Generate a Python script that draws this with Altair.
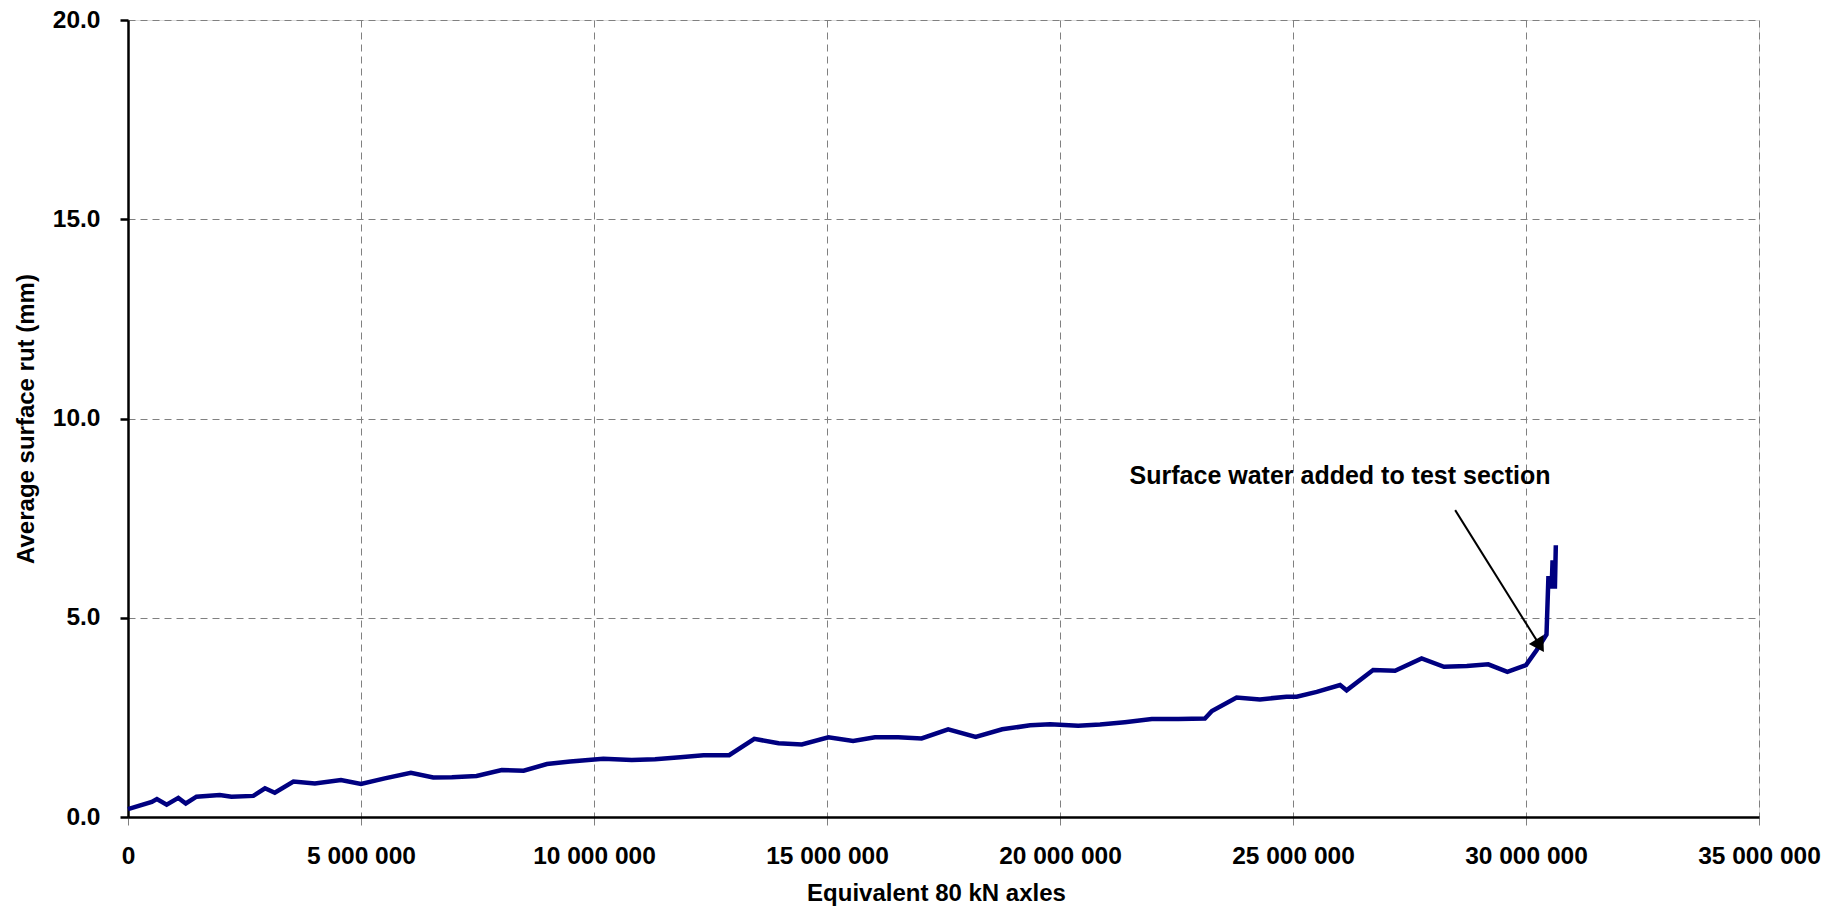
import altair as alt
import pandas as pd

# ---- data ----
esal = [0, 510000, 620000, 830000, 1080000, 1240000, 1470000, 1970000, 2220000, 2690000,
        2940000, 3150000, 3550000, 4010000, 4570000, 5000000, 5510000, 6070000, 6550000, 6950000,
        7480000, 8020000, 8490000, 8990000, 9490000, 10200000, 10810000, 11310000, 11850000, 12350000,
        12900000, 13440000, 13960000, 14460000, 15030000, 15560000, 16030000, 16530000, 17030000, 17600000,
        18190000, 18760000, 19360000, 19790000, 20390000, 20860000, 21390000, 21970000, 22540000, 23110000,
        23260000, 23790000, 24290000, 24860000, 25080000, 25510000, 26010000, 26150000, 26720000, 27190000,
        27760000, 28240000, 28730000, 29190000, 29600000, 30000000, 30230000, 30440000, 30480000, 30530000,
        30550000, 30570000, 30620000, 30640000]
rut = [0.20, 0.38, 0.45, 0.31, 0.48, 0.34, 0.51, 0.55, 0.51, 0.53,
       0.72, 0.61, 0.89, 0.84, 0.93, 0.83, 0.97, 1.11, 0.99, 1.00,
       1.03, 1.18, 1.16, 1.33, 1.39, 1.46, 1.43, 1.45, 1.50, 1.55,
       1.55, 1.96, 1.85, 1.82, 2.00, 1.91, 2.00, 2.00, 1.97, 2.20,
       2.01, 2.20, 2.30, 2.33, 2.29, 2.32, 2.38, 2.46, 2.46, 2.47,
       2.66, 3.00, 2.95, 3.02, 3.02, 3.14, 3.31, 3.18, 3.69, 3.67,
       3.98, 3.77, 3.79, 3.83, 3.64, 3.81, 4.19, 4.58, 5.99, 5.99,
       5.73, 6.44, 5.73, 6.82]

x_ticks = [0, 5000000, 10000000, 15000000, 20000000, 25000000, 30000000, 35000000]
y_ticks = [0, 5, 10, 15, 20]

note_text = ["Surface water added to test section"]
note_x = [26010000]
note_y = [8.35]

arrow_x = [28480000]
arrow_y = [7.70]
arrow_x2 = [30300000]
arrow_y2 = [4.30]

FONT = "Liberation Sans"

df = pd.DataFrame({"esal": esal, "rut": rut, "order": list(range(len(esal)))})
note_df = pd.DataFrame({"x": note_x, "y": note_y, "label": note_text})
arrow_df = pd.DataFrame({"x": arrow_x, "y": arrow_y, "x2": arrow_x2, "y2": arrow_y2})

xscale = alt.Scale(domain=[0, 35000000], nice=False)
yscale = alt.Scale(domain=[0, 20], nice=False)

xaxis = alt.Axis(
    values=x_ticks,
    labelExpr="datum.value == 0 ? '0' : format(datum.value / 1000000, 'd') + ' 000 000'",
    title="Equivalent 80 kN axles",
    grid=True, gridDash=[7, 5], gridColor="#808080", gridWidth=1,
    tickColor="#808080", tickWidth=1, tickSize=8,
    labelPadding=19, labelFontSize=24.5, labelFont=FONT, labelFontWeight="bold",
    labelColor="black", labelFlush=False, labelOverlap=False,
    titleFontSize=24, titleFont=FONT, titleFontWeight="bold", titleColor="black",
    titlePadding=14, titleX=808,
    domainColor="black", domainWidth=2.5,
)
yaxis = alt.Axis(
    values=y_ticks, format=".1f",
    title="Average surface rut (mm)",
    grid=True, gridDash=[7, 5], gridColor="#808080", gridWidth=1,
    tickColor="black", tickWidth=2.5, tickSize=8,
    labelPadding=20, labelFontSize=24.5, labelFont=FONT, labelFontWeight="bold",
    labelColor="black", labelFlush=False, labelOverlap=False,
    titleFontSize=24, titleFont=FONT, titleFontWeight="bold", titleColor="black",
    titlePadding=14,
    domainColor="black", domainWidth=2.5,
)

line = alt.Chart(df).mark_line(color="#000080", strokeWidth=4.5).encode(
    x=alt.X("esal:Q", scale=xscale, axis=xaxis),
    y=alt.Y("rut:Q", scale=yscale, axis=yaxis),
    order="order:Q",
)

shaft = alt.Chart(arrow_df).mark_rule(color="black", strokeWidth=2).encode(
    x=alt.X("x:Q", scale=xscale), y=alt.Y("y:Q", scale=yscale),
    x2="x2:Q", y2="y2:Q",
)

head = alt.Chart(arrow_df).mark_point(
    shape="triangle-up", filled=True, color="black", size=289, angle=148, opacity=1
).encode(
    x=alt.X("x2:Q", scale=xscale), y=alt.Y("y2:Q", scale=yscale),
)

note = alt.Chart(note_df).mark_text(
    font=FONT, fontSize=25, fontWeight="bold", color="black",
    align="center", baseline="alphabetic",
).encode(
    x=alt.X("x:Q", scale=xscale), y=alt.Y("y:Q", scale=yscale), text="label:N",
)

chart = alt.layer(line, shaft, head, note).properties(
    width=1631, height=797,
    autosize=alt.AutoSizeParams(type="none"),
    padding={"left": 120, "top": 12, "right": 76, "bottom": 90},
).configure_view(
    stroke="black", strokeWidth=2.5,
).configure(background="white")

chart.save("out.html", embed_options={"renderer": "svg", "actions": False})
